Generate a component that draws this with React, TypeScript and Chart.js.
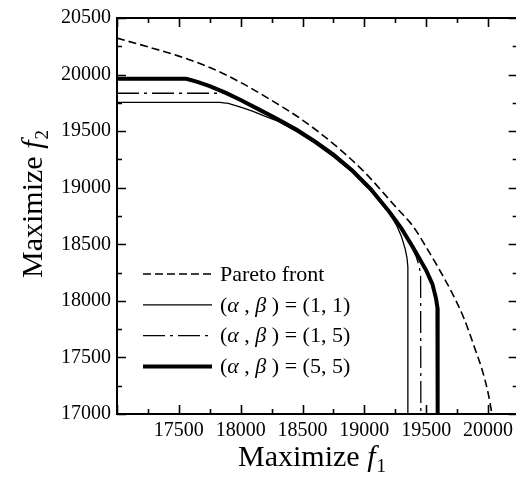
import React, { useEffect, useRef } from 'react';
import { Chart, registerables } from 'chart.js';

Chart.register(...registerables);

// ---- data ----
const xTickValues = [17500, 18000, 18500, 19000, 19500, 20000];
const yTickValues = [17000, 17500, 18000, 18500, 19000, 19500, 20000, 20500];
const xRange = [17000, 20240];
const yRange = [17000, 20500];

const seriesNames = ['Pareto front', '(α , β ) = (1, 1)', '(α , β ) = (1, 5)', '(α , β ) = (5, 5)'];
const axisTitleX = ['Maximize ', 'f', '1'];
const axisTitleY = ['Maximize ', 'f', '2'];

const paretoF1 = [17000, 17250, 17500, 17750, 18000, 18250, 18500, 18750, 19000, 19250, 19400, 19500, 19600, 19700, 19800, 19900, 19950, 20000, 20032];
const paretoF2 = [20322, 20245, 20163, 20063, 19930, 19772, 19598, 19388, 19139, 18835, 18650, 18475, 18290, 18090, 17860, 17560, 17400, 17190, 17000];

const a1b1F1 = [17000, 17830, 17900, 18000, 18100, 18200, 18300, 18450, 18600, 18750, 18900, 19050, 19200, 19262, 19300, 19330, 19345, 19352, 19352];
const a1b1F2 = [19755, 19755, 19745, 19712, 19675, 19630, 19588, 19498, 19393, 19273, 19138, 18973, 18780, 18665, 18570, 18460, 18380, 18300, 17000];

const a1b5F1 = [17000, 17870, 18000, 18150, 18300, 18450, 18600, 18750, 18900, 19050, 19200, 19300, 19380, 19420, 19445, 19455, 19457];
const a1b5F2 = [19835, 19835, 19772, 19687, 19600, 19510, 19405, 19285, 19148, 18982, 18782, 18630, 18480, 18390, 18300, 18220, 17000];

const a5b5F1 = [17000, 17560, 17650, 17750, 17880, 18000, 18150, 18300, 18450, 18600, 18750, 18900, 19050, 19200, 19300, 19400, 19500, 19550, 19580, 19591, 19593];
const a5b5F2 = [19963, 19963, 19935, 19898, 19838, 19775, 19690, 19605, 19515, 19410, 19292, 19155, 18990, 18790, 18640, 18460, 18270, 18150, 18020, 17940, 17000];

const FONT = '"Liberation Serif", "Times New Roman", serif';

type Part = { t: string; italic?: boolean; sub?: boolean };

function drawRich(ctx: CanvasRenderingContext2D, parts: Part[], x: number, y: number, size: number, align: 'left' | 'center') {
  const fontFor = (p: Part) => `${p.italic ? 'italic ' : ''}${p.sub ? Math.round(size * 0.64) : size}px ${FONT}`;
  let total = 0;
  const widths = parts.map((p) => {
    ctx.font = fontFor(p);
    const w = ctx.measureText(p.t).width + (p.sub ? 1 : 0);
    total += w;
    return w;
  });
  let cx = align === 'center' ? x - total / 2 : x;
  parts.forEach((p, i) => {
    ctx.font = fontFor(p);
    ctx.fillText(p.t, cx + (p.sub ? 1 : 0), p.sub ? y + size * 0.2 : y);
    cx += widths[i];
  });
}

const decor = {
  id: 'decor',
  afterDraw(chart: any) {
    const { ctx, chartArea: ca, scales } = chart;
    const xs = scales.x;
    const ys = scales.y;
    ctx.save();
    ctx.strokeStyle = '#000';
    ctx.fillStyle = '#000';
    ctx.setLineDash([]);
    // frame
    ctx.lineWidth = 2;
    ctx.strokeRect(ca.left, ca.top, ca.right - ca.left, ca.bottom - ca.top);
    // inward ticks
    ctx.lineWidth = 1.6;
    const major = 9;
    const minor = 5;
    const xStep = (xTickValues[1] - xTickValues[0]) / 2;
    for (let v = xs.min; v <= xs.max + 1e-6; v += xStep) {
      const isMajor = Math.abs((v - xTickValues[0]) % (2 * xStep)) < 1e-6;
      const len = isMajor ? major : minor;
      const px = Math.round(xs.getPixelForValue(v)) + 0.5;
      ctx.beginPath();
      ctx.moveTo(px, ca.bottom);
      ctx.lineTo(px, ca.bottom - len);
      ctx.moveTo(px, ca.top);
      ctx.lineTo(px, ca.top + len);
      ctx.stroke();
    }
    const yStep = (yTickValues[1] - yTickValues[0]) / 2;
    for (let v = ys.min; v <= ys.max + 1e-6; v += yStep) {
      const isMajor = Math.abs((v - yTickValues[0]) % (2 * yStep)) < 1e-6;
      const len = isMajor ? major : minor;
      const py = Math.round(ys.getPixelForValue(v)) + 0.5;
      ctx.beginPath();
      ctx.moveTo(ca.left, py);
      ctx.lineTo(ca.left + len, py);
      ctx.moveTo(ca.right, py);
      ctx.lineTo(ca.right - len, py);
      ctx.stroke();
    }
    // legend
    const rowTop = 274;
    const rowGap = 30.8;
    const lx1 = 143;
    const lx2 = 212;
    chart.data.datasets.forEach((ds: any, i: number) => {
      const y = rowTop + i * rowGap;
      ctx.setLineDash(ds.borderDash || []);
      ctx.lineWidth = ds.borderWidth;
      ctx.beginPath();
      ctx.moveTo(lx1, y);
      ctx.lineTo(lx2, y);
      ctx.stroke();
      ctx.setLineDash([]);
      ctx.textBaseline = 'middle';
      const parts: Part[] = String(ds.label)
        .split(/([αβ])/)
        .filter((s) => s.length)
        .map((s) => ({ t: s, italic: /[αβ]/.test(s) }));
      drawRich(ctx, parts, 220, y + 1, 22, 'left');
    });
    // axis titles
    ctx.textBaseline = 'alphabetic';
    const titleParts = (a: string[]): Part[] => [{ t: a[0] }, { t: a[1], italic: true }, { t: a[2], sub: true }];
    drawRich(ctx, titleParts(axisTitleX), 312, 466, 30, 'center');
    ctx.save();
    ctx.translate(42, 204);
    ctx.rotate(-Math.PI / 2);
    drawRich(ctx, titleParts(axisTitleY), 0, 0, 30, 'center');
    ctx.restore();
    ctx.restore();
  },
};

function zip(xs: number[], ys: number[]) {
  return xs.map((x, i) => ({ x, y: ys[i] }));
}

export default function App() {
  const ref = useRef<HTMLCanvasElement | null>(null);
  useEffect(() => {
    document.documentElement.style.overflow = 'hidden';
    const canvas = ref.current!;
    const base = { showLine: true, pointRadius: 0, fill: false, borderColor: '#000', backgroundColor: '#000', tension: 0 };
    const chart = new Chart(canvas, {
      type: 'scatter',
      data: {
        datasets: [
          { ...base, label: seriesNames[0], data: zip(paretoF1, paretoF2), borderWidth: 1.6, borderDash: [8, 4], cubicInterpolationMode: 'monotone' },
          { ...base, label: seriesNames[1], data: zip(a1b1F1, a1b1F2), borderWidth: 1.3 },
          { ...base, label: seriesNames[2], data: zip(a1b5F1, a1b5F2), borderWidth: 1.3, borderDash: [22, 5, 3, 5] },
          { ...base, label: seriesNames[3], data: zip(a5b5F1, a5b5F2), borderWidth: 4 },
        ],
      } as any,
      options: {
        animation: false,
        responsive: false,
        maintainAspectRatio: false,
        layout: { padding: { top: 14, left: 0, right: 0, bottom: 0 } },
        plugins: { legend: { display: false }, tooltip: { enabled: false } },
        scales: {
          x: {
            type: 'linear',
            min: xRange[0],
            max: xRange[1],
            afterBuildTicks: (s: any) => {
              s.ticks = xTickValues.map((v) => ({ value: v }));
            },
            afterFit: (s: any) => {
              s.height = 65;
            },
            grid: { display: false, drawTicks: false },
            border: { display: false },
            ticks: { color: '#000', font: { family: FONT, size: 20 }, padding: 5, maxRotation: 0, autoSkip: false, callback: (v: any) => String(v) },
          },
          y: {
            type: 'linear',
            min: yRange[0],
            max: yRange[1],
            afterBuildTicks: (s: any) => {
              s.ticks = yTickValues.map((v) => ({ value: v }));
            },
            afterFit: (s: any) => {
              s.width = 117;
            },
            grid: { display: false, drawTicks: false },
            border: { display: false },
            ticks: { color: '#000', font: { family: FONT, size: 20 }, padding: 6, autoSkip: false, callback: (v: any) => String(v) },
          },
        },
      } as any,
      plugins: [decor],
    });
    return () => chart.destroy();
  }, []);
  return (
    <div style={{ position: 'fixed', left: 0, top: 0, width: 518, height: 479, background: '#fff' }}>
      <canvas ref={ref} width={518} height={479} style={{ display: 'block', width: 518, height: 479 }} />
    </div>
  );
}
